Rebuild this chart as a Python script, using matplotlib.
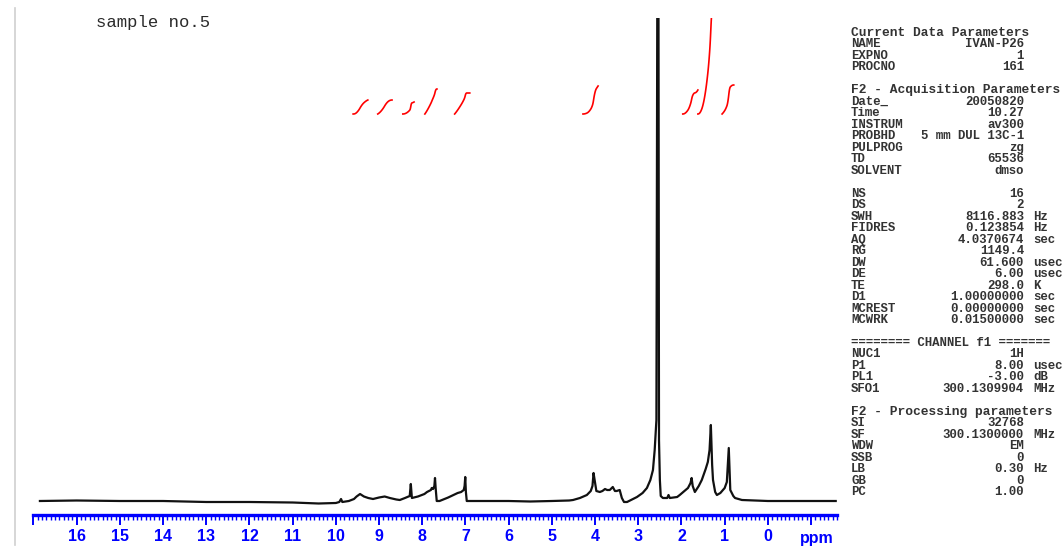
import numpy as np
import matplotlib
matplotlib.use("Agg")
import matplotlib.pyplot as plt
from matplotlib.lines import Line2D
from matplotlib.ticker import MultipleLocator

# ---- Spectrum, intensity in arbitrary units ----
shift_ppm = [16.85, 16.0, 15.0, 14.0, 13.0, 12.0, 11.0, 10.4, 10.0, 9.92, 9.88, 9.85,
             9.7, 9.58, 9.52, 9.44, 9.35, 9.25, 9.14, 9.0, 8.87, 8.75, 8.6, 8.52, 8.4,
             8.29, 8.265, 8.24, 8.1, 7.95, 7.89, 7.8, 7.78, 7.75, 7.72, 7.705, 7.69,
             7.665, 7.6, 7.4, 7.18, 7.1, 7.04, 7.02, 7.005, 6.99, 6.97, 6.5, 6.0, 5.5,
             5.0, 4.6, 4.51, 4.35, 4.19, 4.1, 4.06, 4.035, 4.01, 3.97, 3.89, 3.83, 3.77,
             3.72, 3.66, 3.59, 3.54, 3.5, 3.43, 3.38, 3.33, 3.26, 3.03, 2.9, 2.8, 2.72,
             2.66, 2.62, 2.58, 2.555, 2.535, 2.52, 2.5, 2.48, 2.43, 2.33, 2.3, 2.27, 2.1,
             2.04, 1.85, 1.79, 1.765, 1.74, 1.69, 1.6, 1.53, 1.44, 1.39, 1.35, 1.32,
             1.29, 1.27, 1.22, 1.18, 1.1, 1.0, 0.95, 0.905, 0.87, 0.8, 0.76, 0.6, 0.0,
             -0.8, -1.57]
intensity = [-1, -0.5, -1, -1, -2, -2, -2.5, -3.5, -3, -2, 1, -2,
             -1, 1, 3.5, 6, 3.5, 2, 1, 2.5, 3.5, 2, 0.5, 0, 2,
             4, 16, 2, 3.5, 6, 8, 10, 12, 11, 14, 22, 12,
             -1, -1, 2.5, 7, 8, 10, 14, 23, 8, -1, -1, -1, -1.5,
             -1, -0.5, 0, 2, 5, 9, 14, 27, 20, 9, 8, 9, 11,
             10, 10, 13, 9, 9, 10, 2, -2, -2, 3, 7, 12, 20,
             30, 50, 80, 600, 600, 60, 20, 4, 2, 2, 5, 2, 3,
             5, 12, 17, 22, 14, 8, 14, 20, 31, 38, 50, 75,
             35, 20, 8, 5, 7, 12, 18, 52, 10, 4, 2, 0, -1,
             -1, -1]

# ---- Integral regions (start ppm, end ppm, rise) ----
integ_start = [9.60, 9.03, 8.45, 7.94, 7.25, 4.28, 1.97, 1.62, 1.06]
integ_end = [9.26, 8.70, 8.19, 7.66, 6.90, 3.93, 1.62, 1.27, 0.79]
integ_rise = [14, 14, 12, 25, 21, 28, 24, 110, 29]
INTEG_BASE = 386

# ---- Acquisition / processing parameter panel ----
param_lines = [
    ("Current Data Parameters", "", ""),
    ("NAME", "IVAN-P26", ""),
    ("EXPNO", "1", ""),
    ("PROCNO", "161", ""),
    None,
    ("F2 - Acquisition Parameters", "", ""),
    ("Date_", "20050820", ""),
    ("Time", "10.27", ""),
    ("INSTRUM", "av300", ""),
    ("PROBHD", "5 mm DUL 13C-1", ""),
    ("PULPROG", "zg", ""),
    ("TD", "65536", ""),
    ("SOLVENT", "dmso", ""),
    None,
    ("NS", "16", ""),
    ("DS", "2", ""),
    ("SWH", "8116.883", "Hz"),
    ("FIDRES", "0.123854", "Hz"),
    ("AQ", "4.0370674", "sec"),
    ("RG", "1149.4", ""),
    ("DW", "61.600", "usec"),
    ("DE", "6.00", "usec"),
    ("TE", "298.0", "K"),
    ("D1", "1.00000000", "sec"),
    ("MCREST", "0.00000000", "sec"),
    ("MCWRK", "0.01500000", "sec"),
    None,
    ("======== CHANNEL f1 =======", "", ""),
    ("NUC1", "1H", ""),
    ("P1", "8.00", "usec"),
    ("PL1", "-3.00", "dB"),
    ("SFO1", "300.1309904", "MHz"),
    None,
    ("F2 - Processing parameters", "", ""),
    ("SI", "32768", ""),
    ("SF", "300.1300000", "MHz"),
    ("WDW", "EM", ""),
    ("SSB", "0", ""),
    ("LB", "0.30", "Hz"),
    ("GB", "0", ""),
    ("PC", "1.00", ""),
]

W, H = 1063, 555
BLUE = "#0000ff"

fig = plt.figure(figsize=(W / 100, H / 100), dpi=100)
ax = fig.add_axes([33 / W, (H - 515) / H, (837 - 33) / W, (515 - 18) / H])

# ---- Spectrum ----
ax.plot(shift_ppm, intensity, color="#111111", lw=1.6, solid_joinstyle="round")

# ---- Integral curves: cumulative area of the spectrum in each region ----
x_inc = np.array(shift_ppm[::-1])
y_inc = np.array(intensity[::-1])
for s, e, rise in zip(integ_start, integ_end, integ_rise):
    grid = np.linspace(s, e, 80)
    vals = np.interp(grid, x_inc, y_inc)
    vals = vals - vals.min()
    area = np.concatenate([[0], np.cumsum((vals[1:] + vals[:-1]) / 2)])
    area = area / area[-1]
    ax.plot(grid, INTEG_BASE + rise * area, color="red", lw=1.2)

ax.set_xlim(17.01, -1.6)
ax.set_ylim(-15, 482)

for side in ["top", "left", "right"]:
    ax.spines[side].set_visible(False)
ax.spines["bottom"].set_color(BLUE)
ax.spines["bottom"].set_linewidth(2.4)
ax.set_yticks([])

major = list(range(17, -2, -1))
ax.set_xticks(major)
ax.set_xticklabels(["" if (v == 17 or v == -1) else str(v) for v in major])
ax.xaxis.set_minor_locator(MultipleLocator(0.1))
ax.tick_params(axis="x", which="major", direction="out", length=7, width=1.4,
               color=BLUE, labelcolor=BLUE, pad=3)
ax.tick_params(axis="x", which="minor", direction="out", length=3.5, width=1.0, color=BLUE)
for lab in ax.get_xticklabels():
    lab.set_fontfamily("Liberation Sans")
    lab.set_fontweight("bold")
    lab.set_fontsize(11.5)

fig.text(817 / W, 1 - 538 / H, "ppm", color=BLUE, ha="center", va="center",
         family="Liberation Sans", fontweight="bold", fontsize=11.5)

# ---- Title ----
fig.text(96 / W, 1 - 22 / H, "sample no.5", family="Liberation Mono", fontsize=12.4,
         color="#2a2a2a", ha="left", va="center")

# ---- Left gray rule ----
fig.add_artist(Line2D([15 / W, 15 / W], [1 - 8 / H, 1 - 545 / H], color="#cfcfcf", lw=1.2))

# ---- Parameter panel ----
y = 33.0
step = 11.48
for line in param_lines:
    if line is not None:
        label, value, unit = line
        kw = dict(family="Liberation Mono", fontsize=8.9, fontweight="bold",
                  color="#333333", va="center")
        if label.startswith(("Current", "F2")):
            # section headers run a touch wider on the printout
            kw["fontsize"] = 9.3
        fig.text(851 / W, 1 - y / H, label, ha="left", **kw)
        if value:
            fig.text(1024 / W, 1 - y / H, value, ha="right", **kw)
        if unit:
            fig.text(1033 / W, 1 - y / H, unit, ha="left", **kw)
    y += step

fig.savefig("out.png", dpi=100)
